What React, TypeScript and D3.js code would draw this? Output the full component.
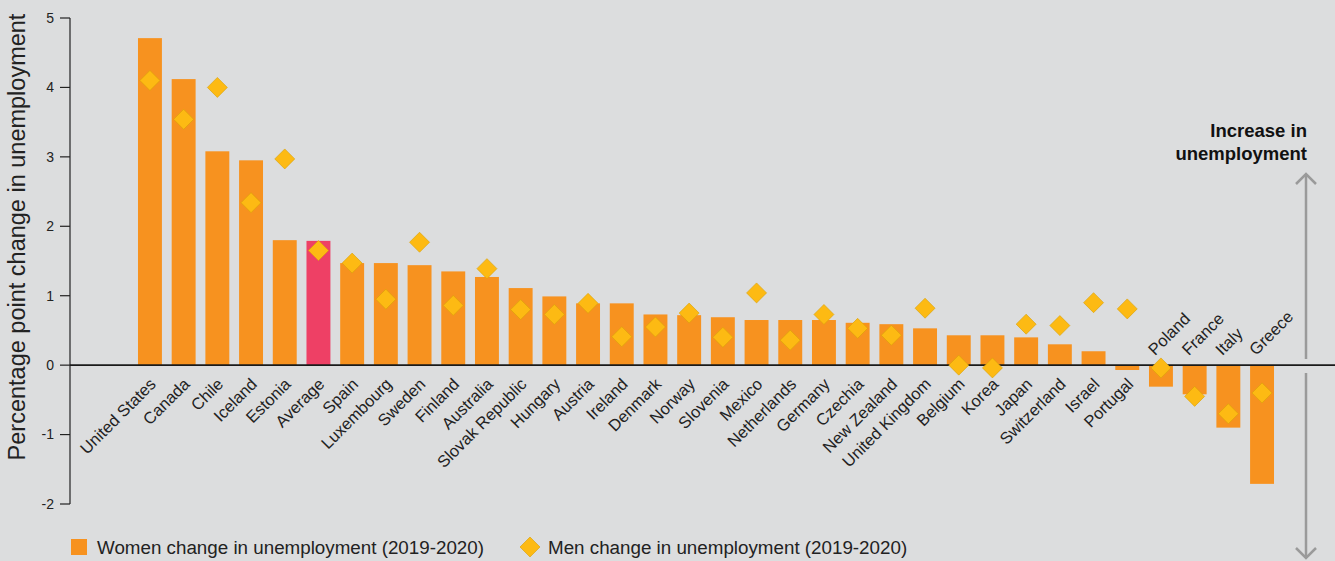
import React from "react";
import * as d3 from "d3";

const countries = [
  "United States", "Canada", "Chile", "Iceland", "Estonia", "Average", "Spain", "Luxembourg",
  "Sweden", "Finland", "Australia", "Slovak Republic", "Hungary", "Austria", "Ireland", "Denmark",
  "Norway", "Slovenia", "Mexico", "Netherlands", "Germany", "Czechia", "New Zealand",
  "United Kingdom", "Belgium", "Korea", "Japan", "Switzerland", "Israel", "Portugal",
  "Poland", "France", "Italy", "Greece",
];
const women = [
  4.71, 4.12, 3.08, 2.95, 1.8, 1.79, 1.47, 1.47, 1.44, 1.35, 1.27, 1.11, 0.99, 0.89, 0.89, 0.73,
  0.72, 0.69, 0.65, 0.65, 0.65, 0.61, 0.59, 0.53, 0.43, 0.43, 0.4, 0.3, 0.2, -0.07,
  -0.31, -0.42, -0.9, -1.71,
];
const men = [
  4.1, 3.54, 4.0, 2.34, 2.97, 1.65, 1.47, 0.95, 1.77, 0.86, 1.39, 0.8, 0.73, 0.89, 0.41, 0.55,
  0.75, 0.4, 1.04, 0.36, 0.73, 0.53, 0.43, 0.82, 0.0, -0.04, 0.59, 0.57, 0.9, 0.81,
  -0.04, -0.45, -0.7, -0.4,
];
const yTicks = [5, 4, 3, 2, 1, 0, -1, -2];
const highlight = "Average";
const legendLabels = [
  "Women change in unemployment (2019-2020)",
  "Men change in unemployment (2019-2020)",
];
const yTitle = "Percentage point change in unemployment";
const noteLines = ["Increase in", "unemployment"];

const W = 1335;
const H = 561;
const FONT = "'Liberation Sans', Arial, Helvetica, sans-serif";

export default function App() {
  const y = d3.scaleLinear().domain([-2, 5]).range([504, 18]);
  const x = d3
    .scaleBand<string>()
    .domain(countries)
    .range([133.1, 133.1 + countries.length * 33.7])
    .paddingInner(0.29)
    .paddingOuter(0.145);
  const bw = x.bandwidth();
  const y0 = y(0);
  const diamond = d3.symbol().type(d3.symbolSquare).size(200);

  return (
    <svg
      width={W}
      height={H}
      style={{ position: "absolute", left: 0, top: 0, background: "#DCDDDE" }}
      fontFamily={FONT}
    >
      <rect x={0} y={0} width={W} height={H} fill="#DCDDDE" />
      {/* y axis */}
      <line x1={70} x2={70} y1={y(5)} y2={y(-2)} stroke="#222" strokeWidth={1.2} />
      {yTicks.map((t) => (
        <g key={t}>
          <line x1={60} x2={70} y1={y(t)} y2={y(t)} stroke="#222" strokeWidth={1.2} />
          <text x={54} y={y(t)} dy="0.35em" textAnchor="end" fontSize={14} fill="#222">
            {t}
          </text>
        </g>
      ))}
      <text
        transform={`translate(25,237) rotate(-90)`}
        textAnchor="middle"
        fontSize={23.5}
        fill="#222"
      >
        {yTitle}
      </text>
      {/* bars */}
      {countries.map((c, i) => {
        const v = women[i];
        return (
          <rect
            key={c}
            x={x(c)}
            y={v >= 0 ? y(v) : y0}
            width={bw}
            height={Math.abs(y(v) - y0)}
            fill={c === highlight ? "#EE4065" : "#F7921F"}
          />
        );
      })}
      {/* zero line */}
      <line x1={70} x2={W} y1={y0} y2={y0} stroke="#1a1a1a" strokeWidth={1.8} />
      {/* diamonds */}
      {countries.map((c, i) => (
        <path
          key={c}
          d={diamond() as string}
          transform={`translate(${(x(c) as number) + bw / 2},${y(men[i])}) rotate(45)`}
          fill="#FDBA13"
          stroke="#D9A20A"
          strokeWidth={0.6}
        />
      ))}
      {/* category labels */}
      {countries.map((c, i) => {
        const cx = (x(c) as number) + bw / 2;
        const above = women[i] < -0.2;
        return above ? (
          <text
            key={c}
            transform={`translate(${cx - 6},${y0 - 9}) rotate(-45)`}
            textAnchor="start"
            fontSize={16.5}
            fill="#222"
          >
            {c}
          </text>
        ) : (
          <text
            key={c}
            transform={`translate(${cx + 7},${y0 + 20}) rotate(-45)`}
            textAnchor="end"
            fontSize={16.5}
            fill="#222"
          >
            {c}
          </text>
        );
      })}
      {/* right annotation */}
      {noteLines.map((l, i) => (
        <text
          key={l}
          x={1307}
          y={137 + i * 23}
          textAnchor="end"
          fontSize={18.5}
          fontWeight="bold"
          fill="#111"
        >
          {l}
        </text>
      ))}
      <g stroke="#9A9A9A" strokeWidth={2.5} fill="none">
        <line x1={1306} x2={1306} y1={174} y2={359} />
        <polyline points="1296,184 1306,174 1316,184" />
        <line x1={1306} x2={1306} y1={373} y2={558} />
        <polyline points="1296,548 1306,558 1316,548" />
      </g>
      {/* legend */}
      <rect x={71} y={539} width={16} height={16} fill="#F7921F" />
      <text x={97} y={554} fontSize={18.8} fill="#222">
        {legendLabels[0]}
      </text>
      <path
        d={diamond() as string}
        transform={`translate(530,547) rotate(45)`}
        fill="#FDBA13"
        stroke="#D9A20A"
        strokeWidth={0.6}
      />
      <text x={548} y={554} fontSize={18.8} fill="#222">
        {legendLabels[1]}
      </text>
    </svg>
  );
}
